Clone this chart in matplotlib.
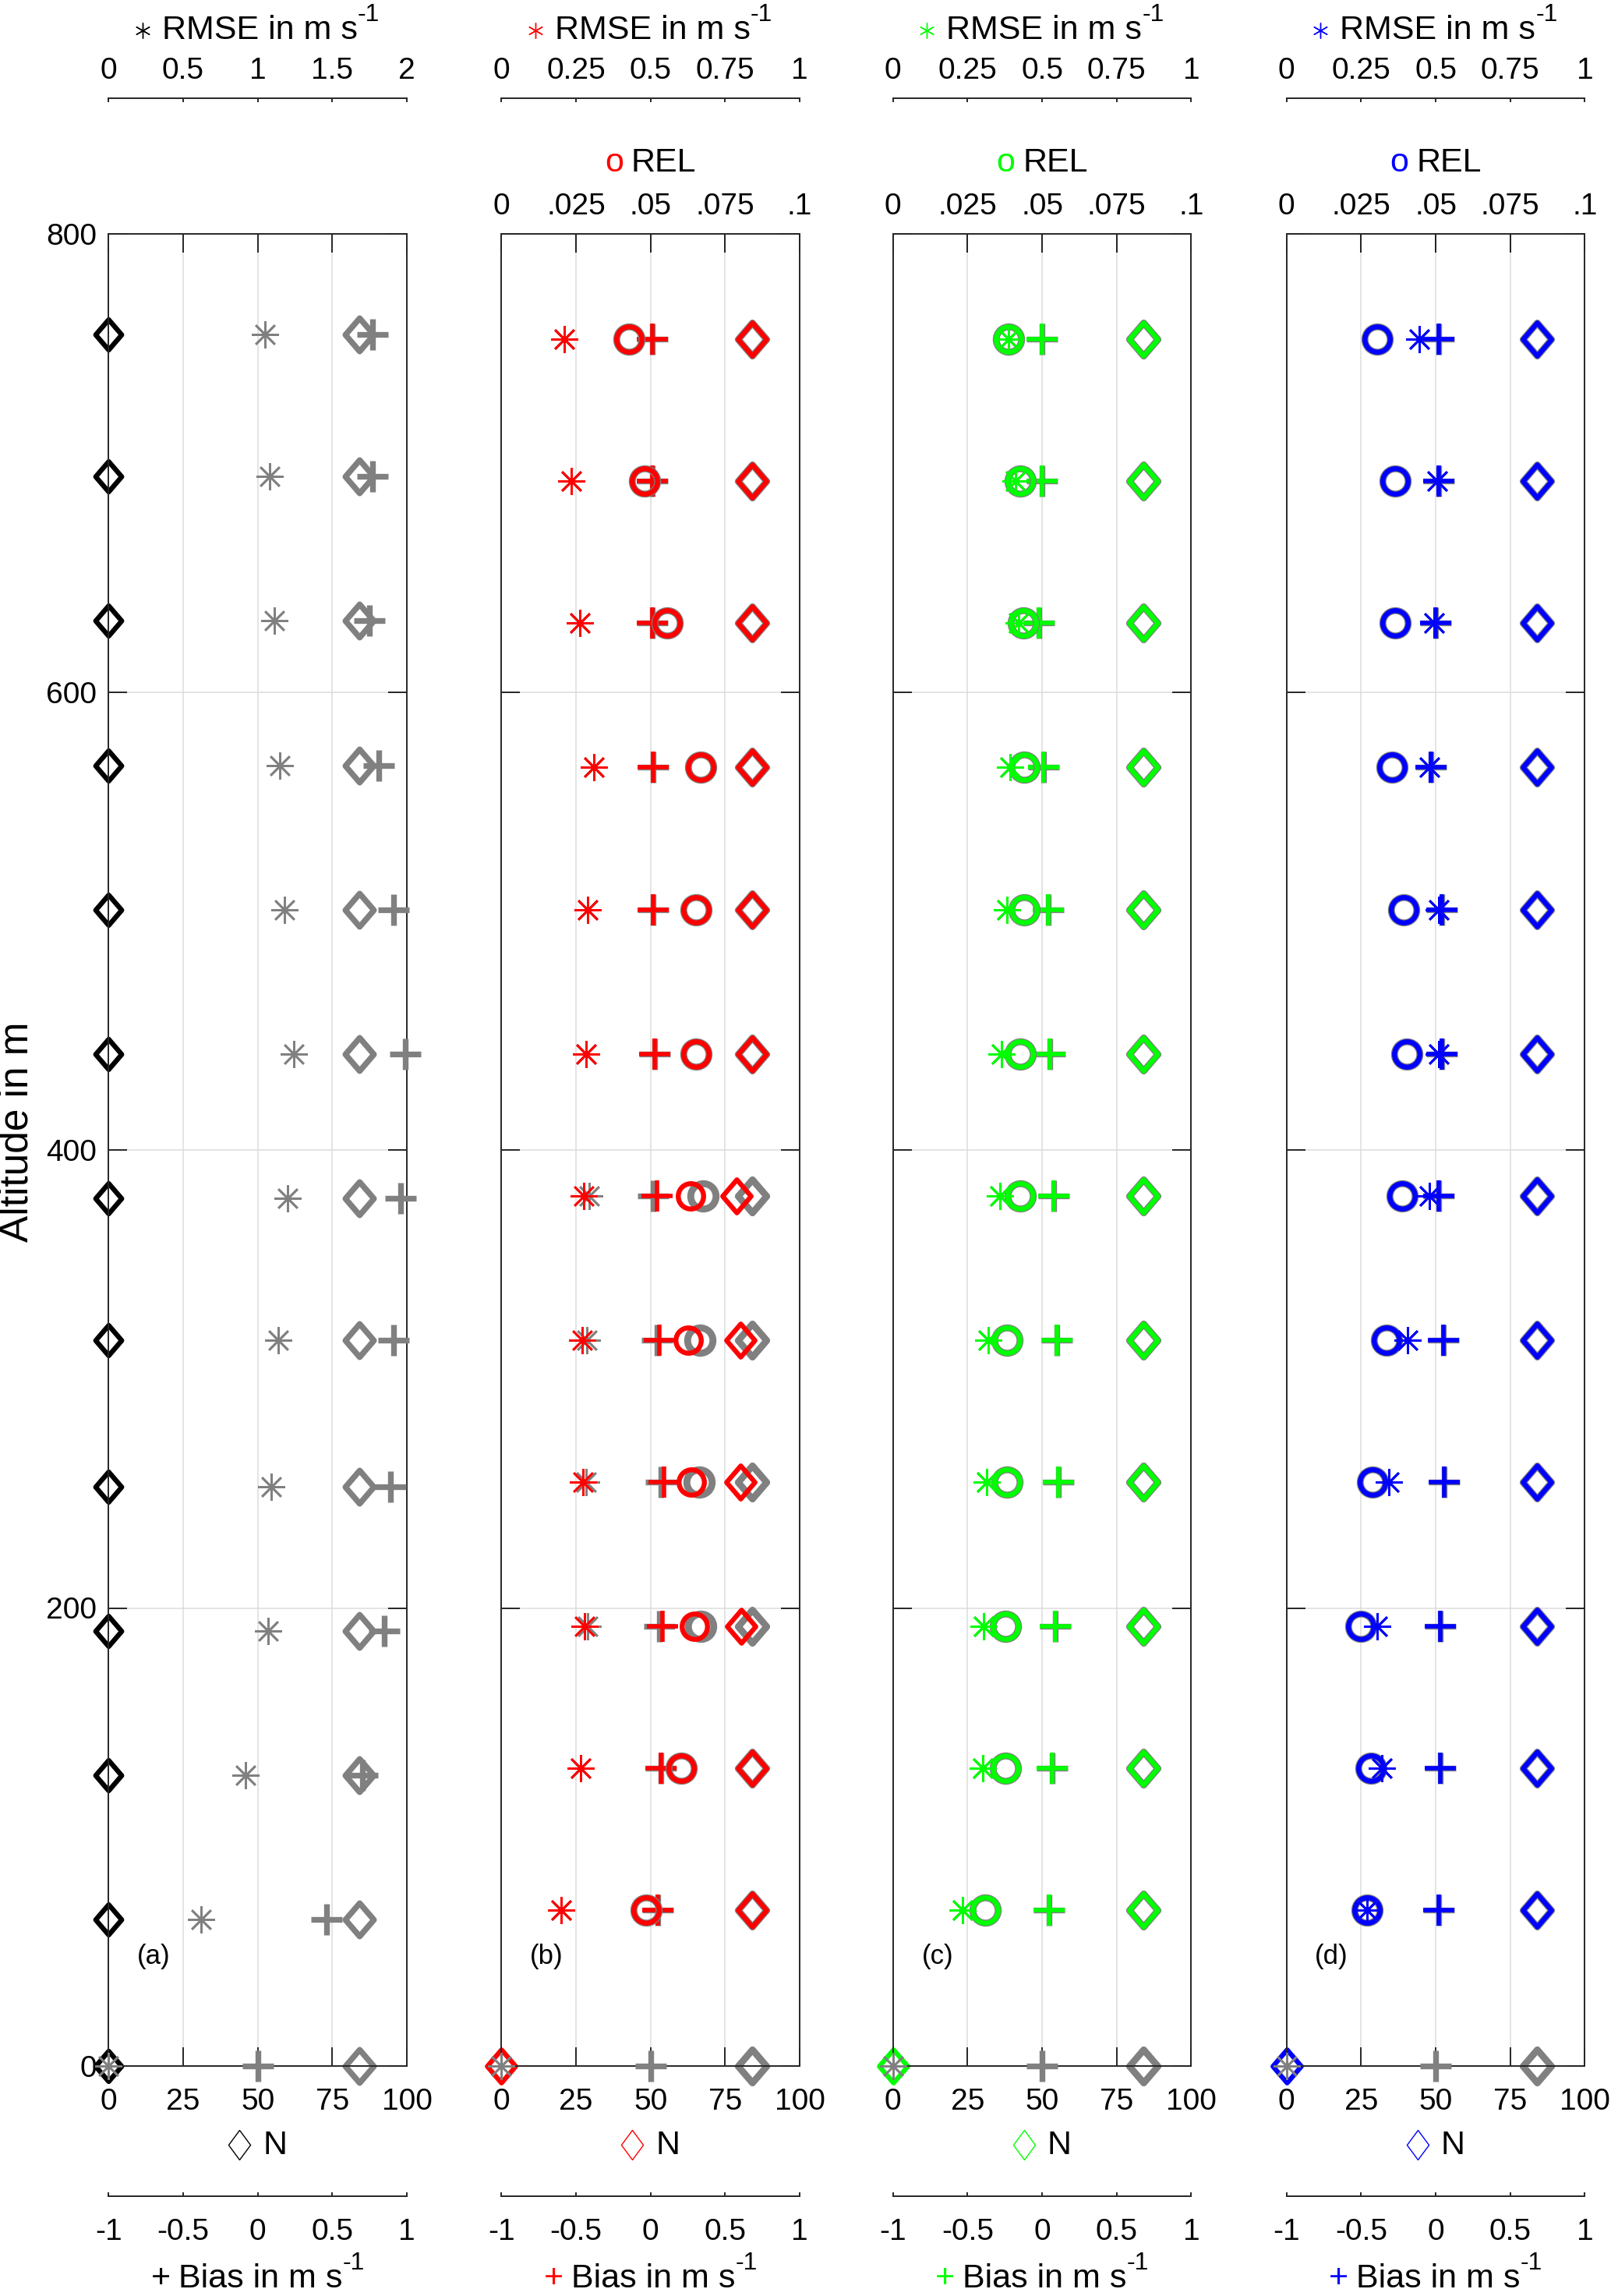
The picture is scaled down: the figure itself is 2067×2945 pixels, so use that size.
import numpy as np
import matplotlib
matplotlib.use("Agg")
import matplotlib.pyplot as plt
from matplotlib.path import Path
from matplotlib.markers import MarkerStyle
from matplotlib.lines import Line2D

plt.rcParams["font.family"] = ["Liberation Sans", "DejaVu Sans"]
plt.rcParams["axes.unicode_minus"] = False

nan = np.nan

# altitudes in m (row 0 is the ground row)
alt_a = [0, 64, 127, 190, 253, 317, 379, 442, 505, 568, 631, 694, 756]
alt_bcd = [0, 68, 130, 192, 255, 317, 380, 442, 505, 567, 630, 692, 754]

# panel (a): reference (gray) and black series
ref_rmse_a = [0, 0.62, 0.92, 1.07, 1.09, 1.14, 1.20, 1.24, 1.18, 1.15, 1.11, 1.08, 1.05]
ref_bias_a = [0, 0.46, 0.70, 0.85, 0.89, 0.91, 0.96, 0.99, 0.91, 0.81, 0.75, 0.77, 0.77]
ref_n_a = [84, 84, 84, 84, 84, 84, 84, 84, 84, 84, 84, 84, 84]
n_a = [0, 0, 0, 0, 0, 0, 0, 0, 0, 0, 0, 0, 0]

# panel (b): red
ref_rmse_b = [0, 0.20, 0.265, 0.289, 0.283, 0.286, 0.295, 0.284, 0.289, 0.309, 0.264, 0.234, 0.211]
ref_rel_b = [nan, .0486, .0603, .0667, .0662, .0666, .0675, .0652, .0652, .0667, .0556, .0479, .0429]
ref_bias_b = [0, 0.05, 0.07, 0.06, 0.07, 0.045, 0.02, 0.03, 0.02, 0.02, 0.01, 0.01, 0.01]
ref_n_b = [84, 84, 84, 84, 84, 84, 84, 84, 84, 84, 84, 84, 84]
rmse_b = [nan, 0.20, 0.265, 0.279, 0.274, 0.270, 0.276, 0.284, 0.289, 0.309, 0.264, 0.234, 0.211]
rel_b = [nan, .0486, .0603, .0647, .0638, .0627, .0634, .0652, .0652, .0667, .0556, .0479, .0429]
bias_b = [nan, 0.05, 0.07, 0.08, 0.09, 0.06, 0.045, 0.03, 0.02, 0.02, 0.01, 0.01, 0.01]
n_b = [0, 84, 84, 80.4, 80.1, 80.1, 78.8, 84, 84, 84, 84, 84, 84]

# panel (c): green
ref_rmse_c = [0, 0.233, 0.302, 0.304, 0.314, 0.319, 0.358, 0.363, 0.382, 0.392, 0.422, 0.412, 0.387]
ref_rel_c = [nan, .0309, .0377, .0377, .0382, .0382, .0426, .0426, .0441, .0441, .0436, .0426, .0387]
ref_bias_c = [0, 0.045, 0.066, 0.09, 0.11, 0.10, 0.08, 0.05, 0.04, 0.01, -0.02, 0.0, 0.0]
ref_n_c = [84, 84, 84, 84, 84, 84, 84, 84, 84, 84, 84, 84, 84]
rmse_c = [nan, 0.233, 0.302, 0.304, 0.314, 0.319, 0.358, 0.363, 0.382, 0.392, 0.422, 0.412, 0.387]
rel_c = [nan, .0309, .0377, .0377, .0382, .0382, .0426, .0426, .0441, .0441, .0436, .0426, .0387]
bias_c = [nan, 0.045, 0.066, 0.09, 0.11, 0.10, 0.08, 0.05, 0.04, 0.01, -0.02, 0.0, 0.0]
n_c = [0, 84, 84, 84, 84, 84, 84, 84, 84, 84, 84, 84, 84]

# panel (d): blue
ref_rmse_d = [0, 0.27, 0.319, 0.304, 0.344, 0.407, 0.479, 0.51, 0.51, 0.48, 0.495, 0.505, 0.446]
ref_rel_d = [nan, .027, .0284, .025, .0289, .0335, .0387, .0402, .0392, .0353, .0363, .0363, .0304]
ref_bias_d = [0, 0.02, 0.03, 0.03, 0.055, 0.05, 0.023, 0.04, 0.04, -0.03, 0.0, 0.02, 0.02]
ref_n_d = [84, 84, 84, 84, 84, 84, 84, 84, 84, 84, 84, 84, 84]
rmse_d = [nan, 0.27, 0.319, 0.304, 0.344, 0.407, 0.479, 0.51, 0.51, 0.48, 0.495, 0.505, 0.446]
rel_d = [nan, .027, .0284, .025, .0289, .0335, .0387, .0402, .0392, .0353, .0363, .0363, .0304]
bias_d = [nan, 0.02, 0.03, 0.03, 0.055, 0.05, 0.023, 0.04, 0.04, -0.03, 0.0, 0.02, 0.02]
n_d = [0, 84, 84, 84, 84, 84, 84, 84, 84, 84, 84, 84, 84]

panel_tags = ["(a)", "(b)", "(c)", "(d)"]
panel_colors = ["k", (1, 0, 0), (0, 1, 0), (0, 0, 1)]
rmse_max = [2, 1, 1, 1]
rmse_ticklabels = [["0", "0.5", "1", "1.5", "2"]] + [["0", "0.25", "0.5", "0.75", "1"]] * 3
rel_ticklabels = ["0", ".025", ".05", ".075", ".1"]
bias_ticklabels = ["-1", "-0.5", "0", "0.5", "1"]

W, H = 2067, 2945
fig = plt.figure(figsize=(W / 100, H / 100), dpi=100)
renderer = fig.canvas.get_renderer()


def fx(px):
    return px / W


def fy(py):
    return 1 - py / H


GRAY = (0.5, 0.5, 0.5)
AXC = "#262626"
TICK_FS = 28
LAB_FS = 31
SUP_FS = 23

diamond = MarkerStyle(Path([(0, 1), (0.86, 0), (0, -1), (-0.86, 0), (0, 1)], closed=True),
                      joinstyle="miter")
lozenge = MarkerStyle(Path([(0, 1), (0.74, 0), (0, -1), (-0.74, 0), (0, 1)], closed=True),
                      joinstyle="miter")
asterisk = (8, 2, 0)

lefts = [139.3, 643.3, 1145.7, 1650.7]
pw = 382.7
y_top, y_bot = 300, 2650


def marks(ax, x, y, marker, ms, color, lw):
    ax.plot(x, y, ls="none", marker=marker, ms=ms, mec=color, mfc="none",
            mew=lw, clip_on=False)


def overlay(rect, xlim):
    o = fig.add_axes(rect, facecolor="none")
    o.set_xlim(xlim)
    o.set_ylim(0, 800)
    o.axis("off")
    return o


def label(xc, yb, sym, col, text, sup=False):
    """sym = (kind, value, width_px, height_px, raise_px); text is black, optional -1 superscript"""
    kind, val, sw, sh, rz = sym
    t2 = fig.text(0, fy(yb), text, color="k", fontsize=LAB_FS, va="baseline", ha="left")
    w2 = t2.get_window_extent(renderer).width
    t3 = None
    w3 = 0
    if sup:
        t3 = fig.text(0, fy(yb - 23), "-1", color="k", fontsize=SUP_FS, va="baseline", ha="left")
        w3 = t3.get_window_extent(renderer).width
    if kind == "text":
        t1 = fig.text(0, fy(yb), val, color=col, fontsize=LAB_FS, va="baseline", ha="left")
        w1 = t1.get_window_extent(renderer).width
        gap = 10
    else:
        w1 = sw
        gap = 16
    x0 = xc - (w1 + gap + w2 + w3) / 2
    if kind == "text":
        t1.set_x(fx(x0))
    else:
        fig.add_artist(Line2D([fx(x0 + sw / 2)], [fy(yb - rz)], transform=fig.transFigure,
                              ls="none", marker=val, ms=sh * 0.72, mec=col, mfc="none",
                              mew=1.0))
    t2.set_x(fx(x0 + w1 + gap))
    if t3 is not None:
        t3.set_x(fx(x0 + w1 + gap + w2))


series = [
    (alt_a, None, None, ref_rmse_a, ref_bias_a, ref_n_a, None, None, n_a),
    (alt_bcd, ref_rel_b, rel_b, ref_rmse_b, ref_bias_b, ref_n_b, rmse_b, bias_b, n_b),
    (alt_bcd, ref_rel_c, rel_c, ref_rmse_c, ref_bias_c, ref_n_c, rmse_c, bias_c, n_c),
    (alt_bcd, ref_rel_d, rel_d, ref_rmse_d, ref_bias_d, ref_n_d, rmse_d, bias_d, n_d),
]

for i, (alt, ref_rel, rel, ref_rmse, ref_bias, ref_n, rmse, bias, n) in enumerate(series):
    col = panel_colors[i]
    rect = [fx(lefts[i]), fy(y_bot), pw / W, (y_bot - y_top) / H]
    xc = lefts[i] + pw / 2

    ax = fig.add_axes(rect)
    ax.set_xlim(0, 100)
    ax.set_ylim(0, 800)
    ax.set_xticks([0, 25, 50, 75, 100])
    ax.set_yticks([0, 200, 400, 600, 800])
    ax.grid(True, color="#dcdcdc", lw=1.1)
    ax.tick_params(direction="in", length=17, width=1.4, color=AXC, top=True, right=True,
                   labelsize=TICK_FS)
    ax.tick_params(axis="x", pad=20)
    ax.tick_params(axis="y", pad=11, labelleft=(i == 0))
    for s in ax.spines.values():
        s.set_linewidth(1.4)
        s.set_color(AXC)

    # N (diamonds) on the main axes
    if i == 0:
        marks(ax, ref_n, alt, diamond, 30.6, GRAY, 5.4)
        marks(ax, n, alt, diamond, 28, "k", 4.6)
    else:
        marks(ax, ref_n, alt, diamond, 30.6, GRAY, 6.3)
        marks(ax, n, alt, diamond, 30.6, col, 4.5)

    # Bias (plus)
    ob = overlay(rect, (-1, 1))
    marks(ob, ref_bias, alt, "+", 29, GRAY, 5.3)
    if bias is not None:
        marks(ob, bias, alt, "+", 29, col, 4.0)

    # REL (circles) with its own top axis
    if rel is not None:
        orl = fig.add_axes(rect, facecolor="none")
        orl.set_xlim(0, 0.1)
        orl.set_ylim(0, 800)
        for s in orl.spines.values():
            s.set_visible(False)
        orl.xaxis.tick_top()
        orl.set_xticks([0, 0.025, 0.05, 0.075, 0.1])
        orl.set_xticklabels(rel_ticklabels)
        orl.set_yticks([])
        orl.tick_params(axis="x", direction="in", length=17, width=1.4, color=AXC,
                        labelsize=TICK_FS, pad=12)
        marks(orl, ref_rel, alt, "o", 23.4, GRAY, 6.4)
        marks(orl, rel, alt, "o", 23.4, col, 4.6)
        label(xc, 220, ("text", "o", 0, 0, 0), col, "REL")

    # RMSE (asterisks)
    orm = overlay(rect, (0, rmse_max[i]))
    marks(orm, ref_rmse, alt, asterisk, 25, GRAY, 1.9)
    if rmse is not None:
        marks(orm, rmse, alt, asterisk, 25, col, 1.9)

    ax.text(15, 48, panel_tags[i], fontsize=25, ha="center", va="center")

    # detached RMSE axis at the top
    at = fig.add_axes([fx(lefts[i]), fy(126), pw / W, 1e-4], facecolor="none")
    at.set_xlim(0, rmse_max[i])
    at.set_xticks(np.linspace(0, rmse_max[i], 5))
    at.set_xticklabels(rmse_ticklabels[i])
    at.set_yticks([])
    for k in ("left", "right", "bottom"):
        at.spines[k].set_visible(False)
    at.spines["top"].set_linewidth(1.4)
    at.spines["top"].set_color(AXC)
    at.xaxis.tick_top()
    at.tick_params(axis="x", direction="in", length=3.5, width=1.4, color=AXC,
                   labelsize=TICK_FS, pad=12)
    label(xc, 50, ("marker", (6, 2, 0), 18, 20, 11), col, "RMSE in m s", sup=True)

    # detached Bias axis at the bottom
    ab = fig.add_axes([fx(lefts[i]), fy(2817), pw / W, 1e-4], facecolor="none")
    ab.set_xlim(-1, 1)
    ab.set_xticks([-1, -0.5, 0, 0.5, 1])
    ab.set_xticklabels(bias_ticklabels)
    ab.set_yticks([])
    for k in ("left", "right", "top"):
        ab.spines[k].set_visible(False)
    ab.spines["bottom"].set_linewidth(1.4)
    ab.spines["bottom"].set_color(AXC)
    ab.tick_params(axis="x", direction="in", length=3.5, width=1.4, color=AXC,
                   labelsize=TICK_FS, pad=20)
    label(xc, 2934, ("text", "+", 0, 0, 0), col, "Bias in m s", sup=True)

    label(xc, 2763, ("marker", lozenge, 28, 38, 12), col, "N")

fig.text(fx(22), fy(1452), "Altitude in m", rotation=90, va="center", ha="center",
         fontsize=37)

fig.savefig("out.png", dpi=100)
